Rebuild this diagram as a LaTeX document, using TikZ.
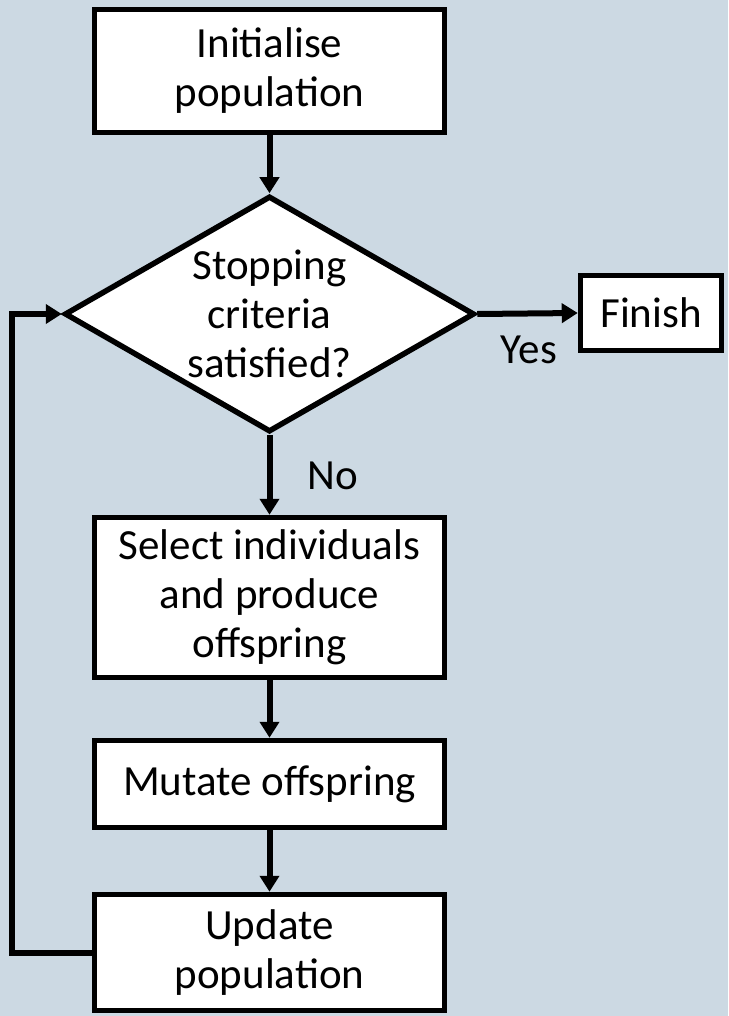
\documentclass[tikz,border=0pt]{standalone}
\usepackage{fontspec}
\setmainfont{Carlito}
\usetikzlibrary{shapes.geometric,arrows.meta}
\definecolor{bg}{RGB}{204,217,227}
\begin{document}
\begin{tikzpicture}[x=1pt,y=-1pt,
  txt/.style={font=\fontsize{43}{49}\selectfont,align=center,inner sep=0pt},
  box/.style={txt,draw,line width=5.5pt,fill=white,minimum width=350pt},
  decision/.style={diamond,draw,line width=5.5pt,fill=white,inner sep=0pt,
    minimum width=410pt,minimum height=236pt},
  flow/.style={line width=6pt,-{Triangle[length=16pt,width=19pt]}}]
  % canvas
  \fill[bg] (0,0) rectangle (728,1016);
  \useasboundingbox (0,0) rectangle (728,1016);

  % steps of the loop
  \node[box,minimum height=123pt] (init) at (269.5,71) {Initialise\\population};
  \node[decision] (dec) at (269.5,314) {};
  \node[txt] (dectext) at (dec) {Stopping\\criteria\\satisfied?};
  \node[box,minimum width=141pt,minimum height=75pt] (finish) at (651,313) {Finish};
  \node[box,minimum height=160pt] (select) at (269.5,597.5) {Select individuals\\and produce\\offspring};
  \node[box,minimum height=87pt] (mutate) at (269.5,784) {Mutate offspring};
  \node[box,minimum height=116pt] (update) at (269.5,952.5) {Update\\population};

  % connectors
  \draw[flow] (init) -- (dec);
  \draw[flow] (dec.east) -- (finish.west);
  \draw[flow] (dec.south) -- (select.north);
  \draw[flow] (select) -- (mutate);
  \draw[flow] (mutate) -- (update);
  \draw[flow,line join=miter] (update.west) -- ++(-80,0) coordinate (back) |- (dec.west);

  % branch labels
  \node[txt] (yes) at (529,350) {Yes};
  \node[txt] (no) at (333,476) {No};
\end{tikzpicture}
\end{document}
